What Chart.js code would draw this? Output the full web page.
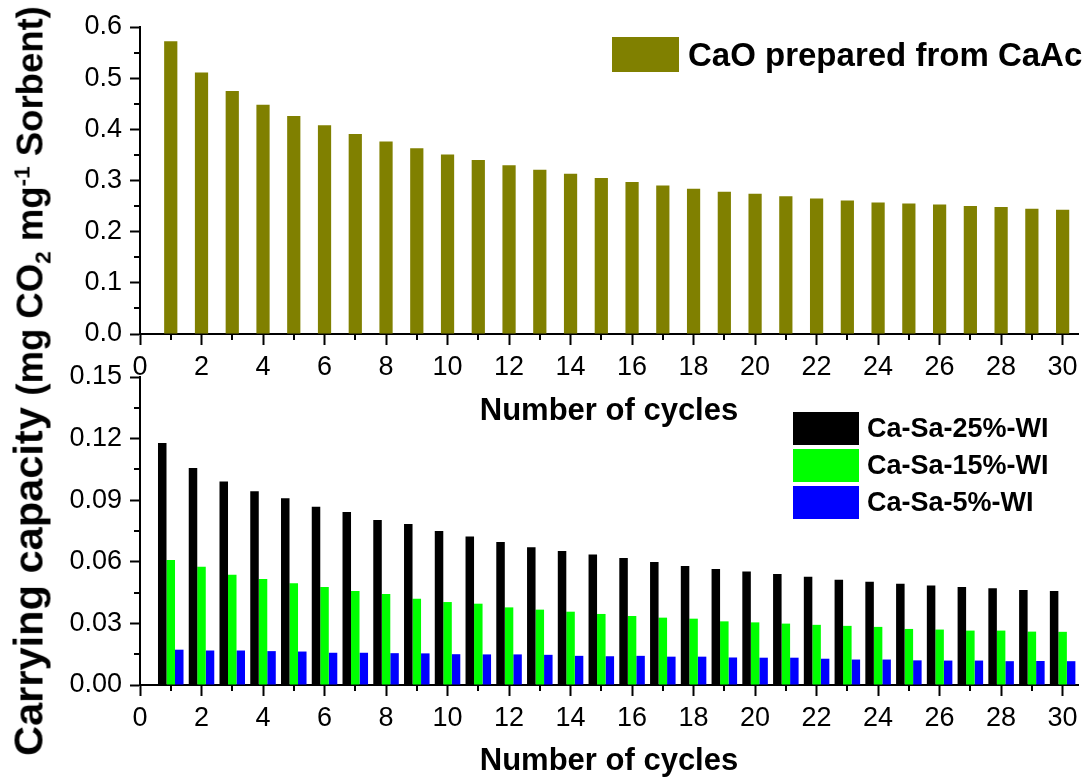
<!DOCTYPE html>
<html>
<head>
<meta charset="utf-8">
<script src="https://cdn.jsdelivr.net/npm/chart.js@4.4.1/dist/chart.umd.min.js"></script>
<style>
  html, body { margin: 0; padding: 0; background: #fff; }
  #wrap { position: relative; width: 1087px; height: 782px; overflow: hidden;
          font-family: 'Liberation Sans', Arial, sans-serif; }
  canvas { position: absolute; left: 0; }
  #cTop { top: 0; }
  #cBot { top: 340px; }
  .legend { position: absolute; }
  .row { display: flex; align-items: center; }
  .sw { flex: none; }
  .lbl { font-weight: bold; color: #000; white-space: nowrap; }
  #ytitle { position: absolute; left: 29px; top: 381px; white-space: nowrap;
            font-weight: bold; line-height: 1; color: #000; transform-origin: center; }
  #ytitle sub, #ytitle sup { font-size: 0.62em; line-height: 0; }
</style>
</head>
<body>
<div id="wrap">
  <canvas id="cTop" width="1087" height="440"></canvas>
  <canvas id="cBot" width="1087" height="442"></canvas>
  <div id="legTop" class="legend" style="left:612px; top:37px;"></div>
  <div id="legBot" class="legend" style="left:793px; top:412px;"></div>
  <div id="ytitle"><span style="font-size:41px">Carrying capacity </span><span style="font-size:36px">(mg CO<sub>2</sub> mg<sup>-1</sup> Sorbent)</span></div>
</div>
<script>
// ---- data ----
const cycles = [1, 2, 3, 4, 5, 6, 7, 8, 9, 10, 11, 12, 13, 14, 15,
                16, 17, 18, 19, 20, 21, 22, 23, 24, 25, 26, 27, 28, 29, 30];

// CaO prepared from calcium acetate
const caoCaAc = [0.572, 0.511, 0.475, 0.448, 0.426, 0.408, 0.391, 0.376, 0.363, 0.351,
                 0.340, 0.330, 0.321, 0.313, 0.305, 0.297, 0.290, 0.284, 0.278, 0.274,
                 0.269, 0.265, 0.261, 0.257, 0.255, 0.253, 0.250, 0.248, 0.245, 0.243];

// Ca-Sa wet-impregnated sorbents
const caSa25 = [0.1178, 0.1057, 0.0991, 0.0944, 0.0910, 0.0868, 0.0843, 0.0803, 0.0784, 0.0750,
                0.0723, 0.0696, 0.0671, 0.0652, 0.0636, 0.0618, 0.0599, 0.0579, 0.0565, 0.0553,
                0.0540, 0.0527, 0.0513, 0.0503, 0.0493, 0.0484, 0.0477, 0.0471, 0.0463, 0.0458];
const caSa15 = [0.0609, 0.0576, 0.0537, 0.0516, 0.0495, 0.0477, 0.0458, 0.0443, 0.0420, 0.0404,
                0.0396, 0.0378, 0.0367, 0.0357, 0.0346, 0.0336, 0.0328, 0.0323, 0.0310, 0.0305,
                0.0299, 0.0293, 0.0288, 0.0283, 0.0273, 0.0270, 0.0265, 0.0265, 0.0260, 0.0259];
const caSa5  = [0.0172, 0.0168, 0.0168, 0.0165, 0.0163, 0.0157, 0.0157, 0.0155, 0.0154, 0.0150,
                0.0149, 0.0149, 0.0147, 0.0142, 0.0140, 0.0142, 0.0138, 0.0138, 0.0134, 0.0133,
                0.0133, 0.0128, 0.0124, 0.0124, 0.0120, 0.0119, 0.0119, 0.0116, 0.0117, 0.0116];

const topSeries = [{ label: 'CaO prepared from CaAc', color: '#808000', values: caoCaAc }];
const botSeries = [
  { label: 'Ca-Sa-25%-WI', color: '#000000', values: caSa25 },
  { label: 'Ca-Sa-15%-WI', color: '#00ff00', values: caSa15 },
  { label: 'Ca-Sa-5%-WI',  color: '#0000ff', values: caSa5 }
];

// tick labels
const xTickLabels = ['0', '2', '4', '6', '8', '10', '12', '14', '16', '18', '20', '22', '24', '26', '28', '30'];
const topYTickLabels = ['0.0', '0.1', '0.2', '0.3', '0.4', '0.5', '0.6'];
const botYTickLabels = ['0.00', '0.03', '0.06', '0.09', '0.12', '0.15'];
const xTitle = 'Number of cycles';

// ---- helpers ----
Chart.defaults.font.family = "'Liberation Sans', Arial, sans-serif";
Chart.defaults.color = '#000';

const near = (a, b) => Math.abs(a - b) < 1e-6;
const majorIndex = (v, step) => { const k = Math.round(v / step); return near(v / step, k) ? k : -1; };

function pts(values) { return cycles.map((c, i) => ({ x: c, y: values[i] })); }

// short ticks between the labelled ones
function minorTickPlugin(xStep, yStep) {
  return {
    id: 'minorTicks',
    afterDraw(chart) {
      const { ctx } = chart;
      const xs = chart.scales.x, ys = chart.scales.y;
      ctx.save();
      ctx.strokeStyle = '#000';
      ctx.lineWidth = 2;
      ctx.beginPath();
      xs.ticks.forEach(t => {
        if (majorIndex(t.value, xStep) < 0) {
          const p = Math.round(xs.getPixelForValue(t.value));
          ctx.moveTo(p, xs.top); ctx.lineTo(p, xs.top + 6);
        }
      });
      ys.ticks.forEach(t => {
        if (majorIndex(t.value, yStep) < 0) {
          const p = Math.round(ys.getPixelForValue(t.value));
          ctx.moveTo(ys.right - 6, p); ctx.lineTo(ys.right, p);
        }
      });
      ctx.stroke();
      ctx.restore();
    }
  };
}

function xAxis(axisHeight, titlePad) {
  return {
    type: 'linear', min: 0, max: 30.5, offset: false,
    afterFit: s => { s.height = axisHeight; },
    ticks: {
      stepSize: 1, autoSkip: false, maxRotation: 0, includeBounds: false, padding: 6,
      color: '#000', font: { size: 27 },
      callback: v => { const k = majorIndex(v, 2); return k >= 0 ? xTickLabels[k] : ''; }
    },
    grid: {
      drawOnChartArea: false, offset: false, tickLength: 11, tickWidth: 2,
      tickColor: c => (majorIndex(c.tick.value, 2) >= 0 ? '#000' : 'rgba(0,0,0,0)')
    },
    border: { display: true, color: '#000', width: 2 },
    title: { display: true, text: xTitle, color: '#000',
             font: { size: 31, weight: 'bold' }, padding: { top: 0, bottom: titlePad } }
  };
}

function yAxis(max, minorStep, majorStep, labels) {
  return {
    min: 0, max: max,
    afterFit: s => { s.width = 140; },
    ticks: {
      stepSize: minorStep, autoSkip: false, padding: 8, color: '#000', font: { size: 27 },
      callback: v => { const k = majorIndex(v, majorStep); return k >= 0 ? labels[k] : ''; }
    },
    grid: {
      drawOnChartArea: false, tickLength: 10, tickWidth: 2,
      tickColor: c => (majorIndex(c.tick.value, majorStep) >= 0 ? '#000' : 'rgba(0,0,0,0)')
    },
    border: { display: true, color: '#000', width: 2 }
  };
}

function makeChart(canvasId, series, barPct, catPct, x, y, padTop, plugin) {
  return new Chart(document.getElementById(canvasId), {
    type: 'bar',
    data: {
      datasets: series.map(s => ({
        label: s.label, data: pts(s.values), backgroundColor: s.color,
        borderWidth: 0, barPercentage: barPct, categoryPercentage: catPct
      }))
    },
    options: {
      responsive: false, animation: false,
      layout: { padding: { top: padTop, right: 9, bottom: 0, left: 0 } },
      plugins: { legend: { display: false }, tooltip: { enabled: false } },
      scales: { x: x, y: y }
    },
    plugins: [plugin]
  });
}

// top panel: CaO from CaAc
makeChart('cTop', topSeries, 0.43, 1.0,
  xAxis(106, 10), yAxis(0.6, 0.05, 0.1, topYTickLabels), 27, minorTickPlugin(2, 0.1));

// bottom panel: Ca-Sa sorbents
makeChart('cBot', botSeries, 1.0, 0.83,
  xAxis(97, 1.5), yAxis(0.15, 0.015, 0.03, botYTickLabels), 37, minorTickPlugin(2, 0.03));

// legends built from the series definitions
function buildLegend(el, series, boxW, boxH, gap, font, rowGap) {
  series.forEach((s, i) => {
    const row = document.createElement('div');
    row.className = 'row';
    if (i > 0) row.style.marginTop = rowGap + 'px';
    const sw = document.createElement('div');
    sw.className = 'sw';
    sw.style.cssText = `width:${boxW}px;height:${boxH}px;background:${s.color};margin-right:${gap}px`;
    const lb = document.createElement('div');
    lb.className = 'lbl';
    lb.style.fontSize = font + 'px';
    lb.style.lineHeight = boxH + 'px';
    lb.textContent = s.label;
    row.appendChild(sw); row.appendChild(lb);
    el.appendChild(row);
  });
}
buildLegend(document.getElementById('legTop'), topSeries, 67, 35, 9, 33, 0);
buildLegend(document.getElementById('legBot'), botSeries, 66, 33, 8, 27, 4);

// shared rotated y-axis title, stretched to span both panels
const yt = document.getElementById('ytitle');
const k = 750 / yt.offsetWidth;
yt.style.transform = `translate(-50%, -50%) rotate(-90deg) scaleX(${k})`;
</script>
</body>
</html>
